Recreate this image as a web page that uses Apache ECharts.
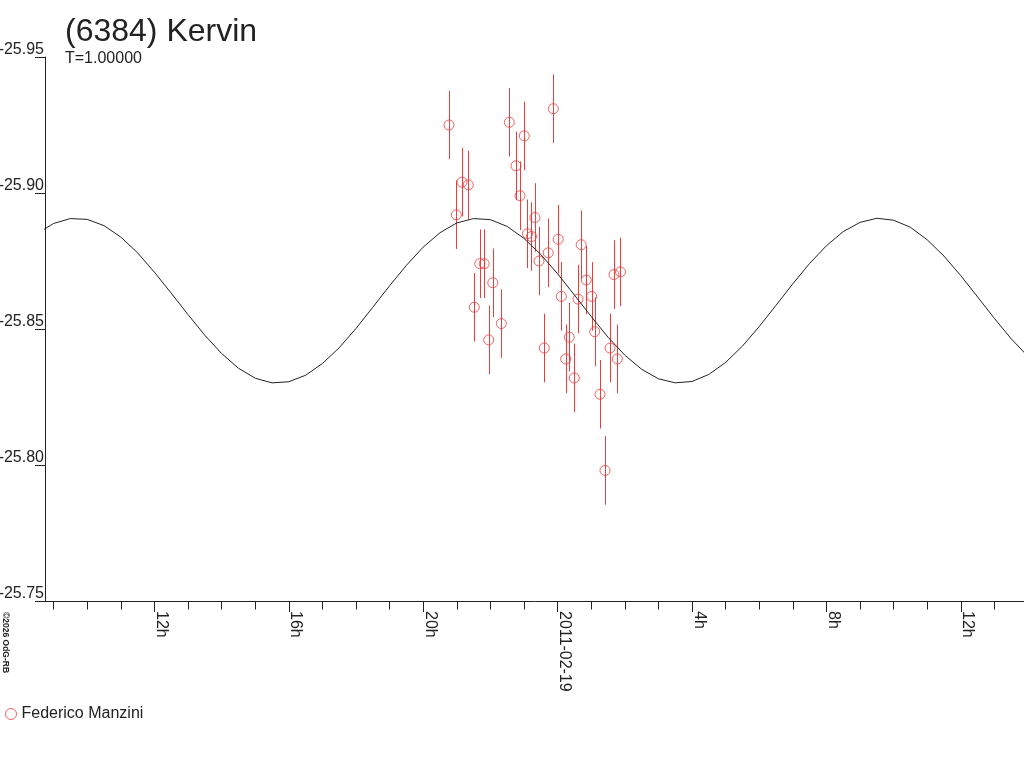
<!DOCTYPE html>
<html><head><meta charset="utf-8">
<script src="https://cdn.jsdelivr.net/npm/echarts@6/dist/echarts.min.js"></script>
<style>html,body{margin:0;padding:0;background:#fff}#c{width:1024px;height:768px}</style>
</head><body><div id="c"></div>
<script>
// Observation times in hours relative to 2011-02-19 00h
const obsHours = [-3.232, -3.015, -2.845, -2.658, -2.479, -2.315, -2.185, -2.051, -1.929, -1.676,
  -1.438, -1.238, -1.119, -0.991, -0.896, -0.777, -0.673, -0.554, -0.396, -0.280,
  -0.128, 0.018, 0.110, 0.241, 0.348, 0.497, 0.607, 0.702, 0.854, 1.015,
  1.104, 1.262, 1.411, 1.560, 1.679, 1.777, 1.872];
const obsMags = [-25.925, -25.892, -25.904, -25.903, -25.858, -25.874, -25.874, -25.846, -25.867, -25.852,
  -25.926, -25.910, -25.899, -25.921, -25.885, -25.884, -25.891, -25.875, -25.843, -25.878,
  -25.931, -25.883, -25.862, -25.839, -25.847, -25.832, -25.861, -25.881, -25.868, -25.862,
  -25.849, -25.826, -25.798, -25.843, -25.870, -25.839, -25.871];
const obsErrs = [0.0126, 0.0126, 0.0126, 0.0126, 0.0126, 0.0126, 0.0126, 0.0126, 0.0126, 0.0126,
  0.0126, 0.0126, 0.0126, 0.0126, 0.0126, 0.0126, 0.0126, 0.0126, 0.0126, 0.0126,
  0.0126, 0.0126, 0.0126, 0.0126, 0.0126, 0.0126, 0.0126, 0.0126, 0.0126, 0.0126,
  0.0126, 0.0126, 0.0126, 0.0126, 0.0126, 0.0126, 0.0126];
// Fitted light-curve (every half hour)
const curveHours = [-16, -15.5, -15, -14.5, -14, -13.5, -13, -12.5, -12, -11.5, -11, -10.5,
  -10, -9.5, -9, -8.5, -8, -7.5, -7, -6.5, -6, -5.5, -5, -4.5, -4, -3.5, -3, -2.5,
  -2, -1.5, -1, -0.5, 0, 0.5, 1, 1.5, 2, 2.5, 3, 3.5, 4, 4.5, 5, 5.5, 6, 6.5,
  7, 7.5, 8, 8.5, 9, 9.5, 10, 10.5, 11, 11.5, 12, 12.5, 13, 13.5, 14, 14.5, 15];
const curveMags = [-25.8796, -25.8850, -25.8888, -25.8906, -25.8903, -25.8880, -25.8838, -25.8780,
  -25.8709, -25.8632, -25.8553, -25.8477, -25.8410, -25.8356, -25.8319, -25.8302, -25.8306,
  -25.8330, -25.8373, -25.8431, -25.8502, -25.8580, -25.8659, -25.8734, -25.8801, -25.8854,
  -25.8890, -25.8906, -25.8902, -25.8877, -25.8833, -25.8774, -25.8703, -25.8625, -25.8546,
  -25.8470, -25.8404, -25.8352, -25.8317, -25.8302, -25.8307, -25.8333, -25.8377, -25.8437,
  -25.8509, -25.8587, -25.8666, -25.8741, -25.8806, -25.8858, -25.8892, -25.8907, -25.8900,
  -25.8874, -25.8828, -25.8768, -25.8696, -25.8618, -25.8539, -25.8464, -25.8399, -25.8348,
  -25.8315];
const majorTickHours = [-12, -8, -4, 0, 4, 8, 12];
const majorTickLabels = ['12h', '16h', '20h', '2011-02-19', '4h', '8h', '12h'];
const minorTickHours = [-15, -14, -13, -12, -11, -10, -9, -8, -7, -6, -5, -4, -3, -2, -1, 0,
  1, 2, 3, 4, 5, 6, 7, 8, 9, 10, 11, 12, 13];
const yTickValues = [-25.95, -25.90, -25.85, -25.80, -25.75];
const yTickLabels = ['-25.95', '-25.90', '-25.85', '-25.80', '-25.75'];
const seriesName = 'Federico Manzini';

const FONT = '"Liberation Sans", Arial, Helvetica, sans-serif';
const RED = '#ee3b3b';
const INK = '#222222';
const xMin = -15.256, xMax = 13.881;

const chart = echarts.init(document.getElementById('c'), null, {renderer: 'canvas'});
const option = {
  animation: false,
  backgroundColor: '#ffffff',
  title: [
    {text: '(6384) Kervin', left: 65, top: 16, padding: 0,
      textStyle: {fontFamily: FONT, fontSize: 32, fontWeight: 'normal', color: INK}},
    {text: 'T=1.00000', left: 65, top: 51, padding: 0,
      textStyle: {fontFamily: FONT, fontSize: 16, fontWeight: 'normal', color: INK}}
  ],
  legend: {
    left: 5, top: 706, padding: 0, itemWidth: 11, itemHeight: 11, icon: 'circle',
    itemStyle: {color: 'rgba(255,255,255,0)', borderColor: RED, borderWidth: 1},
    data: [seriesName],
    textStyle: {fontFamily: FONT, fontSize: 16, color: INK}
  },
  grid: {left: 45, right: 0, top: 57, bottom: 167, containLabel: false, outerBoundsMode: 'none'},
  xAxis: [
    {
      type: 'value', min: xMin, max: xMax, position: 'bottom',
      axisLine: {show: true, onZero: false, lineStyle: {color: INK, width: 1}},
      axisTick: {show: true, length: 11, customValues: majorTickHours, lineStyle: {color: INK, width: 1}},
      axisLabel: {
        show: true, customValues: majorTickHours, rotate: -90, margin: 10,
        verticalAlign: 'bottom', lineHeight: 14,
        fontFamily: FONT, fontSize: 16, color: INK,
        formatter: function (v) {
          const i = majorTickHours.indexOf(Math.round(v));
          return i >= 0 ? majorTickLabels[i] : '';
        }
      },
      splitLine: {show: false}
    },
    {
      type: 'value', min: xMin, max: xMax, position: 'bottom',
      axisLine: {show: false},
      axisTick: {show: true, length: 8.5, customValues: minorTickHours, lineStyle: {color: INK, width: 1}},
      axisLabel: {show: false},
      splitLine: {show: false}
    }
  ],
  yAxis: {
    type: 'value', inverse: true, min: -25.95, max: -25.75,
    axisLine: {show: true, onZero: false, lineStyle: {color: INK, width: 1}},
    axisTick: {show: true, length: 10, customValues: yTickValues, lineStyle: {color: INK, width: 1}},
    axisLabel: {
      show: true, customValues: yTickValues, margin: 1, verticalAlign: 'bottom', lineHeight: 14,
      fontFamily: FONT, fontSize: 16, color: INK,
      formatter: function (v) {
        let best = 0;
        for (let i = 0; i < yTickValues.length; i++) {
          if (Math.abs(yTickValues[i] - v) < Math.abs(yTickValues[best] - v)) best = i;
        }
        return yTickLabels[best];
      }
    },
    splitLine: {show: false}
  },
  graphic: [{
    type: 'text', left: 1, top: 612, rotation: -Math.PI / 2,
    style: {text: '\u00a92026 OdG-RB', fontSize: 8.5, fontFamily: FONT, fontWeight: 'bold', fill: INK}
  }],
  series: [
    {
      name: 'model', type: 'line', xAxisIndex: 0, smooth: false, symbol: 'none', silent: true,
      lineStyle: {color: INK, width: 1},
      data: curveHours.map((h, i) => [h, curveMags[i]])
    },
    {
      name: 'errors', type: 'custom', xAxisIndex: 0, silent: true,
      data: obsHours.map((h, i) => [h, obsMags[i] - obsErrs[i], obsMags[i] + obsErrs[i]]),
      renderItem: function (params, api) {
        const a = api.coord([api.value(0), api.value(1)]);
        const b = api.coord([api.value(0), api.value(2)]);
        const x = Math.round(a[0]) + 0.5;
        return {type: 'line', shape: {x1: x, y1: a[1], x2: x, y2: b[1]},
          style: {stroke: RED, lineWidth: 1}};
      }
    },
    {
      name: seriesName, type: 'scatter', xAxisIndex: 0, symbol: 'circle', symbolSize: 10,
      itemStyle: {color: 'rgba(255,255,255,0)', borderColor: RED, borderWidth: 1},
      data: obsHours.map((h, i) => [h, obsMags[i]])
    }
  ]
};
chart.setOption(option);
</script>
</body></html>
